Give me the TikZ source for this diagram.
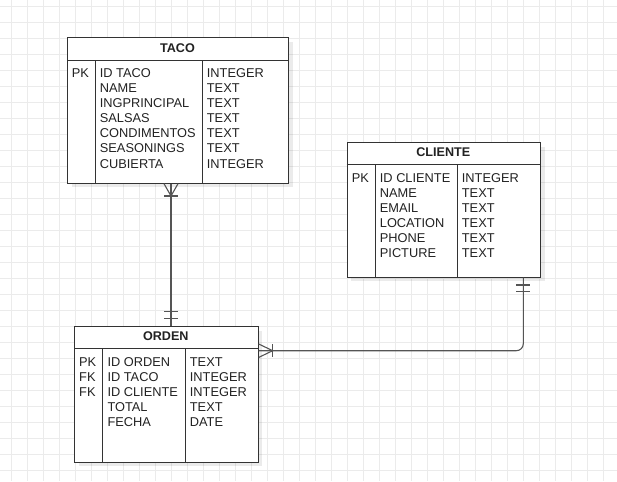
\documentclass[tikz,border=0pt]{standalone}
\usepackage{fontspec}
\setmainfont{Liberation Sans}
\usetikzlibrary{shadows}
\definecolor{gridc}{HTML}{EBEBEB}
\definecolor{boxc}{HTML}{333333}
\definecolor{linkc}{HTML}{555555}
\definecolor{txtc}{HTML}{222222}
\tikzset{
  gridline/.style={draw=gridc, line width=0.8pt},
  entity/.style={draw=boxc, fill=white, line width=1pt, inner sep=0pt, anchor=north west,
    drop shadow={shadow xshift=4pt, shadow yshift=-4pt, fill=black, opacity=0.08}},
  rule/.style={draw=boxc, line width=1pt},
  cell/.style={inner sep=0pt, anchor=base west, text=txtc, font=\fontsize{12.8}{15}\selectfont},
  etitle/.style={inner sep=0pt, text=txtc, font=\fontsize{12.6}{15}\selectfont\bfseries},
  link/.style={draw=linkc, line width=1.1pt},
}
\begin{document}
\begin{tikzpicture}[x=1pt,y=-1pt]
\useasboundingbox (0,0) rectangle (617,481);
\fill[white] (0,0) rectangle (617,481);
\foreach \i in {0,...,38} \draw[gridline] ({11.7+16*\i},0) -- ({11.7+16*\i},481);
\foreach \j in {0,...,29} \draw[gridline] (0,{6.7+16*\j}) -- (617,{6.7+16*\j});

% ---------- TACO ----------
\node[entity, minimum width=221pt, minimum height=145.4pt] (taco) at (67,37.3) {};
\draw[rule] (67,60.7) -- (288,60.7);
\draw[rule] (95,60.7) -- (95,182.7);
\draw[rule] (202.3,60.7) -- (202.3,182.7);
\node[etitle] (taco-t) at (177.5,48.6) {TACO};
\node[cell] (taco-pk) at (71.7,78) {PK};
\foreach \t [count=\i] in {ID TACO,NAME,INGPRINCIPAL,SALSAS,CONDIMENTOS,SEASONINGS,CUBIERTA}
  \node[cell] (taco-n\i) at (99.7,{78+15*(\i-1)}) {\t};
\foreach \t [count=\i] in {INTEGER,TEXT,TEXT,TEXT,TEXT,TEXT,INTEGER}
  \node[cell] (taco-y\i) at (206.7,{78+15*(\i-1)}) {\t};

% ---------- CLIENTE ----------
\node[entity, minimum width=193.3pt, minimum height=134.4pt] (cliente) at (346.7,142.3) {};
\draw[rule] (346.7,164.3) -- (540,164.3);
\draw[rule] (375,164.3) -- (375,276.7);
\draw[rule] (457.3,164.3) -- (457.3,276.7);
\node[etitle] (cliente-t) at (443.3,152.2) {CLIENTE};
\node[cell] (cliente-pk) at (351.7,182.3) {PK};
\foreach \t [count=\i] in {ID CLIENTE,NAME,EMAIL,LOCATION,PHONE,PICTURE}
  \node[cell] (cliente-n\i) at (379.7,{182.3+15*(\i-1)}) {\t};
\foreach \t [count=\i] in {INTEGER,TEXT,TEXT,TEXT,TEXT,TEXT}
  \node[cell] (cliente-y\i) at (461.7,{182.3+15*(\i-1)}) {\t};

% ---------- ORDEN ----------
\node[entity, minimum width=183.7pt, minimum height=135.7pt] (orden) at (74,326) {};
\draw[rule] (74,348.3) -- (257.7,348.3);
\draw[rule] (102.7,348.3) -- (102.7,461.7);
\draw[rule] (185.3,348.3) -- (185.3,461.7);
\node[etitle] (orden-t) at (165.8,336.4) {ORDEN};
\foreach \t [count=\i] in {PK,FK,FK}
  \node[cell] (orden-k\i) at (79,{366.3+15*(\i-1)}) {\t};
\foreach \t [count=\i] in {ID ORDEN,ID TACO,ID CLIENTE,TOTAL,FECHA}
  \node[cell] (orden-n\i) at (107.3,{366.3+15*(\i-1)}) {\t};
\foreach \t [count=\i] in {TEXT,INTEGER,INTEGER,TEXT,DATE}
  \node[cell] (orden-y\i) at (189.7,{366.3+15*(\i-1)}) {\t};

% ---------- connectors ----------
\coordinate (c1) at (171,0);
\coordinate (c2) at (523.3,0);
\coordinate (c3) at (0,350.7);

% TACO (one or many) -- ORDEN (mandatory one)
\draw[link] (taco.south -| c1) -- (orden.north -| c1);
\draw[link] ([xshift=-7pt]taco.south -| c1) -- ([yshift=-12.3pt]taco.south -| c1) -- ([xshift=7pt]taco.south -| c1);
\draw[link] ([xshift=-7pt,yshift=-12.3pt]taco.south -| c1) -- ([xshift=7pt,yshift=-12.3pt]taco.south -| c1);
\draw[link] ([xshift=-7pt,yshift=14.3pt]orden.north -| c1) -- ([xshift=7pt,yshift=14.3pt]orden.north -| c1);
\draw[link] ([xshift=-7pt,yshift=7.7pt]orden.north -| c1) -- ([xshift=7pt,yshift=7.7pt]orden.north -| c1);

% CLIENTE (mandatory one) -- ORDEN (one or many)
\draw[link, rounded corners=7pt] (cliente.south -| c2) |- (orden.east |- c3);
\draw[link] ([xshift=-7pt,yshift=-7.3pt]cliente.south -| c2) -- ([xshift=7pt,yshift=-7.3pt]cliente.south -| c2);
\draw[link] ([xshift=-7pt,yshift=-14pt]cliente.south -| c2) -- ([xshift=7pt,yshift=-14pt]cliente.south -| c2);
\draw[link] ([yshift=6.7pt]orden.east |- c3) -- ([xshift=14pt]orden.east |- c3) -- ([yshift=-6.7pt]orden.east |- c3);
\draw[link] ([xshift=14pt,yshift=6.7pt]orden.east |- c3) -- ([xshift=14pt,yshift=-6.7pt]orden.east |- c3);
\end{tikzpicture}
\end{document}
